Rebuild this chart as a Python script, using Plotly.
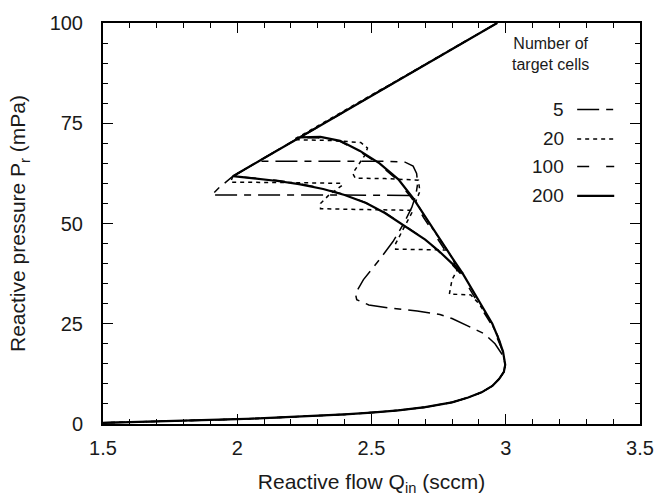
import plotly.graph_objects as go

# ---- data: reactive flow Q_in (sccm) vs reactive pressure P_r (mPa) ----
# shared metallic-mode branch up to the nose
q_low = [1.5, 1.6, 1.7, 1.8, 1.9, 2.0, 2.1, 2.2, 2.3, 2.4, 2.5, 2.6, 2.7, 2.8,
         2.86, 2.91, 2.95, 2.975, 2.993, 2.998]
p_low = [0.3, 0.45, 0.6, 0.8, 1.0, 1.2, 1.45, 1.75, 2.05, 2.4, 2.85, 3.4, 4.2,
         5.4, 6.6, 7.9, 9.5, 11.2, 13.0, 14.8]

# poisoned-mode straight line
q_line = [1.984, 2.968]
p_line = [61.8, 100.0]

# 200 cells: upper branch (nose -> line) and lower branch (merge -> line start)
q200_up = [2.99, 2.975, 2.95, 2.92, 2.88, 2.84, 2.80, 2.75, 2.70, 2.655, 2.60,
           2.53, 2.457, 2.383, 2.31, 2.234]
p200_up = [18.0, 21.0, 25.0, 28.5, 33.0, 37.5, 41.5, 46.5, 51.5, 56.3, 61.0,
           65.0, 68.1, 70.6, 71.6, 71.5]
q200_lo = [2.84, 2.80, 2.75, 2.70, 2.62, 2.55, 2.48, 2.40, 2.32, 2.23, 2.15,
           2.06, 1.984]
p200_lo = [37.5, 40.0, 43.2, 46.0, 49.6, 52.6, 55.1, 57.1, 58.6, 59.8, 60.6,
           61.3, 61.8]

# 100 cells
q100_up = [2.99, 2.972, 2.945, 2.912, 2.872, 2.832, 2.792, 2.742, 2.694, 2.65,
           2.594, 2.524, 2.452, 2.378, 2.30, 2.232]
p100_up = [18.0, 21.0, 25.0, 28.5, 33.0, 37.5, 41.5, 46.5, 51.5, 56.3, 61.0,
           65.0, 68.1, 70.6, 71.4, 71.4]
q100_lo = [2.832, 2.794, 2.744, 2.694, 2.614, 2.545, 2.474, 2.395, 2.316, 2.226,
           2.145, 2.058, 1.984]
p100_lo = [37.5, 40.2, 43.4, 46.3, 49.9, 52.9, 55.3, 57.3, 58.8, 60.0, 60.8,
           61.4, 61.8]

# 20 cells (stepped)
q20_up = [2.99, 2.97, 2.94, 2.90, 2.87, 2.79, 2.80, 2.82, 2.80, 2.78, 2.75,
          2.70, 2.665, 2.68, 2.675, 2.55, 2.44, 2.43, 2.475, 2.485, 2.46,
          2.35, 2.21]
p20_up = [18.0, 22.0, 26.0, 30.0, 32.2, 32.4, 36.0, 38.5, 41.5, 43.4, 46.5,
          51.5, 55.5, 58.0, 60.8, 61.2, 61.3, 62.5, 67.0, 68.8, 70.2, 70.7,
          70.9]
q20_lo = [2.78, 2.59, 2.59, 2.62, 2.655, 2.45, 2.31, 2.31, 2.34, 2.39, 2.39,
          2.20, 1.975, 1.984]
p20_lo = [43.4, 43.6, 45.0, 49.0, 53.3, 53.5, 53.7, 55.0, 57.0, 59.5, 60.0,
          60.2, 60.3, 61.8]

# 5 cells (stepped)
q5_up = [2.99, 2.96, 2.92, 2.86, 2.80, 2.755, 2.67, 2.57, 2.49, 2.445, 2.44,
         2.47, 2.53, 2.58, 2.62, 2.65, 2.665, 2.672, 2.668, 2.655, 2.625,
         2.55, 2.077]
p5_up = [17.0, 20.0, 22.5, 24.5, 26.3, 27.3, 28.2, 28.9, 29.7, 31.0, 32.5,
         36.0, 41.0, 45.5, 50.0, 54.0, 57.0, 60.0, 62.5, 64.3, 65.3, 65.5,
         65.5]
q5_lo = [2.64, 2.40, 1.905, 1.93, 1.984]
p5_lo = [57.0, 57.1, 57.1, 58.8, 61.8]

series_names = ["5", "20", "100", "200"]
dash_styles = ["22px,7px,7px,7px", "4px,4px", "12px,17px", "solid"]
line_widths = [1.5, 1.5, 1.5, 2.2]


def path(q_up, p_up, q_lo, p_lo):
    """Join the branches of one S-curve into a single trace (None = gap)."""
    line_top_q = [q for q in q_line if q > q_up[-1]]
    line_top_p = [p for q, p in zip(q_line, p_line) if q > q_up[-1]]
    # lower branch ends at the start of the line; continue along the line
    # up to where the upper branch meets it
    slope = (p_line[1] - p_line[0]) / (q_line[1] - q_line[0])
    p_join = p_line[0] + slope * (q_up[-1] - q_line[0])
    xs = q_low + q_up + line_top_q + [None] + q_lo + [q_up[-1]]
    ys = p_low + p_up + line_top_p + [None] + p_lo + [p_join]
    return xs, ys


curves = [
    path(q5_up, p5_up, q5_lo, p5_lo),
    path(q20_up, p20_up, q20_lo, p20_lo),
    path(q100_up, p100_up, q100_lo, p100_lo),
    path(q200_up, p200_up, q200_lo, p200_lo),
]

fig = go.Figure()
for name, (xs, ys), dash, w in zip(series_names, curves, dash_styles, line_widths):
    fig.add_trace(go.Scatter(
        x=xs, y=ys, mode="lines", name=name, connectgaps=False,
        line=dict(color="black", width=w, dash=dash), showlegend=False,
    ))

FONT = "Liberation Sans, Arial, sans-serif"
TXT = "#1a1a1a"

# legend drawn as text + sample lines inside the plot area
legend_y = [0.784, 0.711, 0.642, 0.569]
annotations = [dict(
    x=0.834, y=0.922, xref="paper", yref="paper", showarrow=False,
    xanchor="center", yanchor="middle",
    text="Number of<br>target cells", align="center",
    font=dict(family=FONT, size=16, color=TXT),
)]
shapes = []
for name, dash, w, yy in zip(series_names, dash_styles, line_widths, legend_y):
    annotations.append(dict(
        x=0.862, y=yy, xref="paper", yref="paper", showarrow=False,
        text=name, xanchor="right", yanchor="middle",
        font=dict(family=FONT, size=19, color=TXT),
    ))
    shapes.append(dict(
        type="line", xref="paper", yref="paper", x0=0.883, x1=0.952,
        y0=yy, y1=yy, line=dict(color="black", width=w, dash=dash),
    ))

axis_common = dict(
    showline=True, linecolor="black", linewidth=2, mirror="ticks",
    ticks="inside", ticklen=10, tickwidth=1.3, tickcolor="black",
    showgrid=False, zeroline=False,
    tickfont=dict(family=FONT, size=20, color=TXT),
)

fig.update_layout(
    width=669, height=502,
    margin=dict(l=103, r=29, t=17, b=77),
    paper_bgcolor="white", plot_bgcolor="white",
    xaxis=dict(
        range=[1.5, 3.5], tickvals=[1.5, 2, 2.5, 3, 3.5],
        ticktext=["1.5", "2", "2.5", "3", "3.5"],
        ticklabelstandoff=5,
        minor=dict(dtick=0.1, ticks="inside", ticklen=5, tickcolor="black",
                   tickwidth=1.3),
        title=dict(text="Reactive flow Q<sub>in</sub> (sccm)", standoff=16,
                   font=dict(family=FONT, size=21, color=TXT)),
        **axis_common,
    ),
    yaxis=dict(
        range=[0, 100], tickvals=[0, 25, 50, 75, 100],
        ticklabelstandoff=14,
        minor=dict(dtick=5, ticks="inside", ticklen=5, tickcolor="black",
                   tickwidth=1.3),
        title=dict(text="Reactive pressure P<sub>r</sub> (mPa)", standoff=18,
                   font=dict(family=FONT, size=21, color=TXT)),
        **axis_common,
    ),
    annotations=annotations,
    shapes=shapes,
)

fig.write_html("out.html")
